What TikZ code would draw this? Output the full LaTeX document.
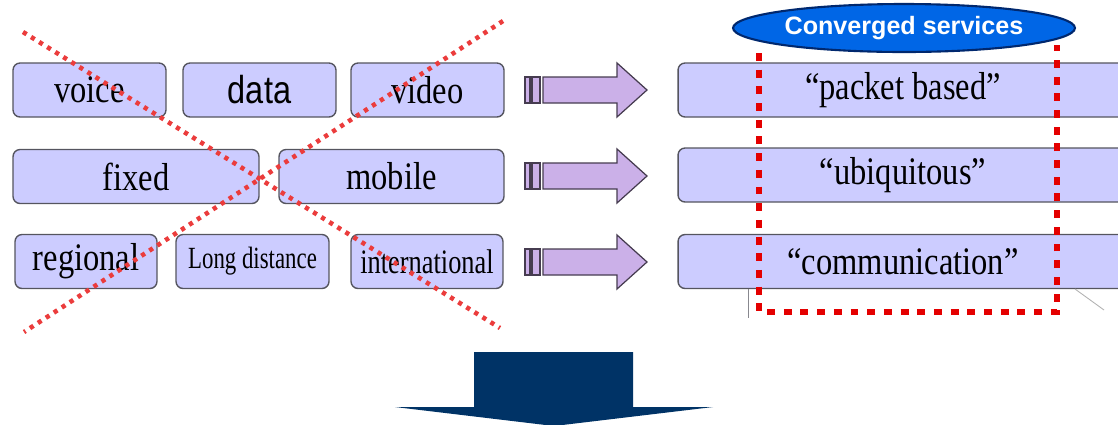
\documentclass[tikz,border=0pt]{standalone}
\usepackage{fontspec}
\usepackage{graphicx}
\setmainfont{Liberation Serif}
\newfontfamily\arialfont{Liberation Sans}
\usetikzlibrary{shapes.geometric}

\definecolor{cellfill}{RGB}{204,204,255}
\definecolor{cellline}{RGB}{85,85,95}
\definecolor{arrowfill}{RGB}{203,176,232}
\definecolor{arrowline}{RGB}{70,60,80}
\definecolor{crossred}{RGB}{235,60,60}
\definecolor{framered}{RGB}{228,0,0}
\definecolor{ovalfill}{RGB}{0,102,230}
\definecolor{ovalline}{RGB}{0,40,110}
\definecolor{navy}{RGB}{0,51,102}

\newcommand{\tall}[1]{\scalebox{1}[1.2]{#1}}

\tikzset{
  cell/.style={draw=cellline, fill=cellfill, line width=0.8pt, rounded corners=4pt,
    minimum height=1.08cm, inner sep=0pt, font=\fontsize{18.5}{20}\selectfont},
  blockarrow/.style={draw=arrowline, fill=arrowfill, line width=0.7pt},
  cross/.style={draw=crossred, line width=2.6pt, dash pattern=on 2.4pt off 3pt},
  frame/.style={draw=framered, line width=3.4pt, dash pattern=on 4.5pt off 5pt},
}

\begin{document}
\begin{tikzpicture}[x=0.02cm, y=-0.02cm]
                \clip (0,0) rectangle (1118,424);

                % old, separate networks
                \node[cell, minimum width=3.06cm] (voice) at (89.5,90) {\tall{voice}};
                \node[cell, minimum width=3.06cm] (data) at (259.5,90) {\tall{\arialfont data}};
                \node[cell, minimum width=3.06cm] (video) at (427.5,90) {\tall{video}};
                \node[cell, minimum width=4.92cm] (fixed) at (136,176.5) {\tall{fixed}};
                \node[cell, minimum width=4.50cm] (mobile) at (391.5,176.5) {\tall{mobile}};
                \node[cell, minimum width=2.84cm] (regional) at (86,261.5) {\tall{regional}};
                \node[cell, minimum width=3.06cm] (longdist) at (252.5,261.5) {\scalebox{1}[1.35]{\fontsize{13}{14}\selectfont Long distance}};
                \node[cell, minimum width=3.04cm] (intl) at (427,261.5) {\scalebox{1}[1.3]{\fontsize{15}{16}\selectfont international}};

                % converged
                \node[cell, minimum width=9.00cm] (packet) at (903,90) {\tall{“packet based”}};
                \node[cell, minimum width=9.00cm] (ubiq) at (903,175) {\tall{“ubiquitous”}};
                \node[cell, minimum width=9.00cm] (comm) at (903,261.5) {\tall{“communication”}};

                \draw[cellline!70, line width=0.5pt] (748,289) -- (748,318);
                \draw[gray!60, line width=0.5pt] (1075,289) -- (1104,310);

                \foreach \cy in {90,176,262} {
                    \draw[blockarrow] (525,\cy-13) rectangle (530,\cy+13);
                    \draw[blockarrow] (532,\cy-13) rectangle (540,\cy+13);
                    \draw[blockarrow] (543,\cy-13) -- (617,\cy-13) -- (617,\cy-27) -- (647,\cy)
                        -- (617,\cy+27) -- (617,\cy+13) -- (543,\cy+13) -- cycle;
                }

                \draw[cross] (23,32) -- (500,328);
                \draw[cross] (503,21) -- (24,332);

                \draw[frame] (759,53) -- (759,312) -- (1057,312) -- (1057,45);
                \node[ellipse, draw=ovalline, fill=ovalfill, line width=1.2pt, minimum width=6.84cm,
                    minimum height=0.96cm, inner sep=0pt, text=white,
                    font=\arialfont\bfseries\fontsize{14.3}{16}\selectfont] (conv) at (904,28) {Converged services};

                \fill[navy] (474,352) -- (633,352) -- (633,407) -- (713,407) -- (554,426)
                    -- (395,407) -- (474,407) -- cycle;
            \end{tikzpicture}
\end{document}
